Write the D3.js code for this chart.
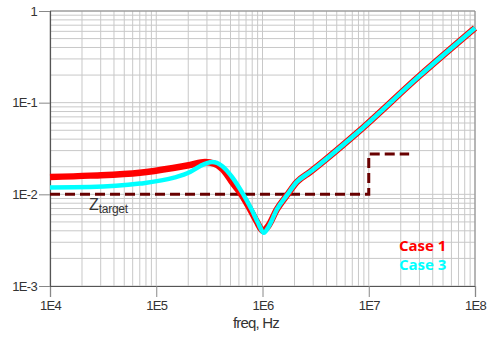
<!DOCTYPE html>
<html>
<head>
<meta charset="utf-8">
<script src="https://cdn.jsdelivr.net/npm/d3@7"></script>
<style>
  html, body { margin: 0; padding: 0; background: #fff; }
  svg { display: block; }
</style>
</head>
<body>
<svg id="chart" width="490" height="346"></svg>
<script>
// ---- data ----
const xTickValues = [1e4, 1e5, 1e6, 1e7, 1e8];
const xTickLabels = ["1E4", "1E5", "1E6", "1E7", "1E8"];
const yTickValues = [1e-3, 1e-2, 1e-1, 1];
const yTickLabels = ["1E-3", "1E-2", "1E-1", "1"];

const case1Freq = [1e4, 2.38e4, 7.0e4, 1.44e5, 2.08e5, 2.88e5, 3.57e5, 4.44e5, 5.16e5, 6.28e5, 7.63e5, 8.87e5, 1.01e6, 1.13e6, 1.37e6, 1.70e6, 2.10e6, 2.80e6, 7.74e6, 3.0e7, 1e8];
const case1Z    = [0.01545, 0.0160, 0.0172, 0.0194, 0.0209, 0.0225, 0.0214, 0.0175, 0.0136, 0.0101, 0.0069, 0.0050, 0.0040, 0.0045, 0.0069, 0.0098, 0.0136, 0.0175, 0.0467, 0.196, 0.653];

const case3Freq = [1e4, 2.38e4, 7.0e4, 1.44e5, 2.08e5, 2.60e5, 3.35e5, 4.16e5, 5.16e5, 6.55e5, 7.96e5, 9.07e5, 1.03e6, 1.15e6, 1.37e6, 1.70e6, 2.10e6, 2.80e6, 7.74e6, 3.0e7, 1e8];
const case3Z    = [0.01188, 0.0120, 0.0131, 0.0151, 0.0175, 0.0204, 0.0225, 0.0204, 0.0155, 0.0101, 0.0067, 0.0049, 0.0038, 0.0045, 0.0069, 0.0098, 0.0136, 0.0175, 0.0467, 0.196, 0.653];

const targetFreq = [1e4, 1e7, 1e7, 2.4e7];
const targetZ    = [0.01, 0.01, 0.0275, 0.0275];

const seriesNames = ["Case 1", "Case 3"];
const seriesColors = ["#ff0000", "#00ffff"];

// ---- layout ----
const svg = d3.select("#chart");
const L = 50, R = 475, T = 11, B = 286;

const x = d3.scaleLog().domain([1e4, 1e8]).range([L, R]);
const y = d3.scaleLog().domain([1e-3, 1]).range([B, T]);

// grid
const gridColor = "#c8c8c8";
const xGrid = [];
for (let e = 4; e < 8; e++) for (let m = 1; m <= 9; m++) xGrid.push(m * Math.pow(10, e));
xGrid.push(1e8);
const yGrid = [];
for (let e = -3; e < 0; e++) for (let m = 1; m <= 9; m++) yGrid.push(m * Math.pow(10, e));
yGrid.push(1);

const g = svg.append("g");
g.selectAll("line.vg").data(xGrid).enter().append("line")
  .attr("x1", d => x(d)).attr("x2", d => x(d))
  .attr("y1", T).attr("y2", B)
  .attr("stroke", gridColor).attr("stroke-width", 1);
g.selectAll("line.hg").data(yGrid).enter().append("line")
  .attr("y1", d => y(d)).attr("y2", d => y(d))
  .attr("x1", L).attr("x2", R)
  .attr("stroke", gridColor).attr("stroke-width", 1);

// frame top / right
svg.append("line").attr("x1", L).attr("x2", R).attr("y1", T).attr("y2", T).attr("stroke", "#888");
svg.append("line").attr("x1", R).attr("x2", R).attr("y1", T).attr("y2", B).attr("stroke", "#888");

// axes
const xAxis = d3.axisBottom(x).tickValues(xTickValues)
  .tickFormat((d, i) => xTickLabels[i]).tickSize(11).tickPadding(4);
const yAxis = d3.axisLeft(y).tickValues(yTickValues)
  .tickFormat((d, i) => yTickLabels[i]).tickSize(11).tickPadding(2);

const gx = svg.append("g").attr("transform", `translate(0,${B})`).call(xAxis);
const gy = svg.append("g").attr("transform", `translate(${L},0)`).call(yAxis);
[gx, gy].forEach(a => {
  a.select(".domain").attr("stroke", "#555").attr("stroke-width", 1.2);
  a.selectAll(".tick line").attr("stroke", "#888");
  a.selectAll(".tick text").attr("fill", "#333")
    .style("font-family", "'Liberation Sans', Arial, sans-serif")
    .style("font-size", "13px").style("letter-spacing", "-0.7px");
});

// axis title
svg.append("text").attr("x", 256).attr("y", 328).attr("text-anchor", "middle")
  .attr("fill", "#333")
  .style("font-family", "'Liberation Sans', Arial, sans-serif")
  .style("font-size", "15px").style("letter-spacing", "-0.8px")
  .text("freq, Hz");

// lines
const line = d3.line().x(d => x(d[0])).y(d => y(d[1])).curve(d3.curveMonotoneX);
const case1 = case1Freq.map((f, i) => [f, case1Z[i]]);
const case3 = case3Freq.map((f, i) => [f, case3Z[i]]);

// target (dashed)
const target = targetFreq.map((f, i) => [f, targetZ[i]]);
svg.append("path").datum(target)
  .attr("d", d3.line().x(d => x(d[0])).y(d => y(d[1])))
  .attr("fill", "none").attr("stroke", "#680000").attr("stroke-width", 3)
  .attr("stroke-dasharray", "10,5");

svg.append("path").datum(case1).attr("d", line)
  .attr("fill", "none").attr("stroke", seriesColors[0]).attr("stroke-width", 6.5)
  .attr("stroke-linejoin", "round");
svg.append("path").datum(case3).attr("d", line)
  .attr("fill", "none").attr("stroke", seriesColors[1]).attr("stroke-width", 4.5)
  .attr("stroke-linejoin", "round");

// Z target label
const zt = svg.append("text").attr("x", 89).attr("y", 209.5).attr("fill", "#333")
  .style("font-family", "'Liberation Sans', Arial, sans-serif").style("font-size", "16px");
zt.append("tspan").text("Z");
zt.append("tspan").attr("dy", 3).style("font-size", "12px").style("letter-spacing", "-0.3px").text("target");

// legend
seriesNames.forEach((n, i) => {
  svg.append("text").attr("x", 399).attr("y", 251 + i * 19)
    .attr("fill", seriesColors[i])
    .style("font-family", "'Open Sans', sans-serif").style("font-weight", "bold")
    .style("font-size", "15px").text(n);
});
</script>
</body>
</html>
